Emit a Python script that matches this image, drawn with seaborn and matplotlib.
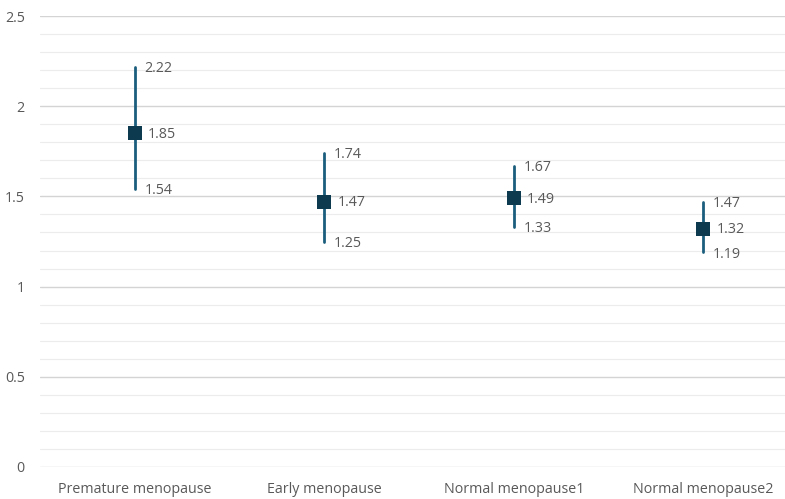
import matplotlib
matplotlib.use("Agg")
import matplotlib.pyplot as plt
import seaborn as sns
import pandas as pd
from matplotlib.ticker import MultipleLocator

categories = ["Premature menopause", "Early menopause", "Normal menopause1", "Normal menopause2"]
estimate = [1.85, 1.47, 1.49, 1.32]
lower = [1.54, 1.25, 1.33, 1.19]
upper = [2.22, 1.74, 1.67, 1.47]

sns.set_theme(style="white")
plt.rcParams["font.family"] = ["Open Sans", "DejaVu Sans"]

# long form: three values per group; median = estimate, full range = interval
rows = []
for c, lo, est, hi in zip(categories, lower, estimate, upper):
    for v in (lo, est, hi):
        rows.append({"group": c, "value": v})
long_df = pd.DataFrame(rows)
point_df = pd.DataFrame({"group": categories, "value": estimate})

fig = plt.figure(figsize=(7.85, 4.99), dpi=100)
ax = fig.add_axes([40 / 785, 1 - 467 / 499, 1 - 40 / 785, (467 - 16) / 499])

line_color = "#1b5d7c"
marker_color = "#0e3a50"
text_color = "#595959"

sns.pointplot(data=long_df, x="group", y="value", estimator="median",
              errorbar=("pi", 100), linestyle="none", marker="",
              color=line_color, err_kws={"linewidth": 2.0}, ax=ax, zorder=3)
sns.scatterplot(data=point_df, x="group", y="value", marker="s", s=110,
                color=marker_color, edgecolor=marker_color, linewidth=0,
                ax=ax, zorder=4)

for i, (lo, est, hi) in enumerate(zip(lower, estimate, upper)):
    ax.text(i + 0.05, hi - 0.01, f"{hi:.2f}", ha="left", va="center", fontsize=10.3, color=text_color)
    ax.text(i + 0.07, est - 0.005, f"{est:.2f}", ha="left", va="center", fontsize=10.3, color=text_color)
    ax.text(i + 0.05, lo - 0.01, f"{lo:.2f}", ha="left", va="center", fontsize=10.3, color=text_color)

ax.set_ylim(0, 2.5)
ax.set_xlim(-0.5, 3.43)
ax.yaxis.set_major_locator(MultipleLocator(0.5))
ax.yaxis.set_minor_locator(MultipleLocator(0.1))
ax.set_yticks([0, 0.5, 1, 1.5, 2, 2.5])
ax.set_yticklabels(["0", "0.5", "1", "1.5", "2", "2.5"])
ax.grid(True, which="major", axis="y", color="#d4d4d4", linewidth=1.0)
ax.grid(True, which="minor", axis="y", color="#ececec", linewidth=0.8)
ax.set_axisbelow(True)
for s in ax.spines.values():
    s.set_visible(False)
ax.set_xlabel("")
ax.set_ylabel("")
ax.tick_params(axis="both", which="both", length=0, labelsize=10.3, colors=text_color)
ax.tick_params(axis="y", pad=11)
ax.tick_params(axis="x", pad=11)

fig.savefig("out.png", dpi=100)
